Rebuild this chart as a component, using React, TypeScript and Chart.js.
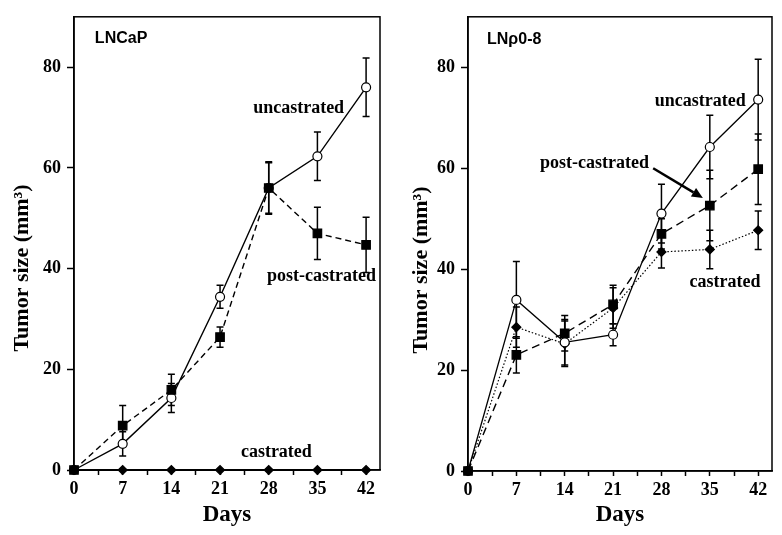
import React, { useEffect, useRef } from 'react';
import { Chart, registerables } from 'chart.js';

Chart.register(...registerables);

// ---------- data ----------
const days = [0, 7, 14, 21, 28, 35, 42];
const xTickValues = [0, 3.5, 7, 10.5, 14, 17.5, 21, 24.5, 28, 31.5, 35, 38.5, 42];
const yTickValues = [0, 20, 40, 60, 80];

// LNCaP
const lncapUncastrated = [0, 5.2, 14.3, 34.4, 56.0, 62.3, 76.0];
const lncapUncastratedErr = [0, 2.4, 2.9, 2.3, 5.2, 4.8, 5.8];
const lncapPostCastrated = [0, 8.8, 15.9, 26.4, 56.0, 47.0, 44.7];
const lncapPostCastratedErr = [0, 4.0, 3.1, 2.0, 5.0, 5.2, 5.5];
const lncapCastrated = [0, 0, 0, 0, 0, 0, 0];
const lncapCastratedErr = [0, 0, 0, 0, 0, 0, 0];

// LNrho0-8
const lnrhoUncastrated = [0, 33.9, 25.5, 27.0, 51.0, 64.2, 73.6];
const lnrhoUncastratedErr = [0, 7.6, 4.5, 2.2, 5.8, 6.3, 8.0];
const lnrhoPostCastrated = [0, 23.0, 27.3, 33.0, 47.0, 52.6, 59.8];
const lnrhoPostCastratedErr = [0, 3.6, 3.5, 3.8, 3.0, 7.0, 7.0];
const lnrhoCastrated = [0, 28.5, 25.2, 32.3, 43.4, 43.9, 47.7];
const lnrhoCastratedErr = [0, 4.0, 4.5, 4.0, 3.2, 3.8, 3.8];

const SERIF = '"Liberation Serif", "Times New Roman", serif';
const SANS = '"Liberation Sans", Arial, sans-serif';

type Series = {
  label: string;
  values: number[];
  errors: number[];
  pointStyle: string;
  radius: number;
  fill: string;
  dash: number[];
  width: number;
};

type Note = { text: string; x: number; y: number; align?: string; font?: string };

type Panel = {
  title: string;
  series: Series[];
  notes: Note[];
  arrow?: { from: [number, number]; to: [number, number] };
  area: { left: number; right: number; top: number; bottom: number };
  yTitlePos: [number, number];
};

const overlayPlugin = {
  id: 'overlay',
  beforeDatasetsDraw(chart: any) {
    const ctx = chart.ctx;
    const xs = chart.scales.x;
    const ys = chart.scales.y;
    ctx.save();
    ctx.strokeStyle = '#000';
    ctx.lineWidth = 1.5;
    ctx.setLineDash([]);
    chart.data.datasets.forEach((ds: any) => {
      const errs: number[] = ds.errors || [];
      ds.data.forEach((p: any, j: number) => {
        const e = errs[j];
        if (!e) return;
        const x = xs.getPixelForValue(p.x);
        const y1 = ys.getPixelForValue(p.y + e);
        const y2 = ys.getPixelForValue(p.y - e);
        ctx.beginPath();
        ctx.moveTo(x, y1);
        ctx.lineTo(x, y2);
        ctx.moveTo(x - 3.5, y1);
        ctx.lineTo(x + 3.5, y1);
        ctx.moveTo(x - 3.5, y2);
        ctx.lineTo(x + 3.5, y2);
        ctx.stroke();
      });
    });
    ctx.restore();
  },
  afterDatasetsDraw(chart: any, _args: any, opts: any) {
    const ctx = chart.ctx;
    const xs = chart.scales.x;
    const ys = chart.scales.y;
    const a = chart.chartArea;
    ctx.save();
    // box
    ctx.strokeStyle = '#000';
    ctx.lineWidth = 1.5;
    ctx.setLineDash([]);
    ctx.strokeRect(a.left, a.top, a.right - a.left, a.bottom - a.top);

    // notes
    ctx.fillStyle = '#000';
    ctx.textBaseline = 'middle';
    (opts.notes || []).forEach((n: Note) => {
      ctx.font = n.font || `bold 18px ${SERIF}`;
      ctx.textAlign = (n.align as CanvasTextAlign) || 'center';
      ctx.fillText(n.text, xs.getPixelForValue(n.x), ys.getPixelForValue(n.y));
    });

    // arrow
    if (opts.arrow) {
      const x1 = xs.getPixelForValue(opts.arrow.from[0]);
      const y1 = ys.getPixelForValue(opts.arrow.from[1]);
      const x2 = xs.getPixelForValue(opts.arrow.to[0]);
      const y2 = ys.getPixelForValue(opts.arrow.to[1]);
      const ang = Math.atan2(y2 - y1, x2 - x1);
      const hl = 11;
      const bx = x2 - hl * Math.cos(ang);
      const by = y2 - hl * Math.sin(ang);
      ctx.lineWidth = 2.5;
      ctx.beginPath();
      ctx.moveTo(x1, y1);
      ctx.lineTo(bx, by);
      ctx.stroke();
      ctx.beginPath();
      ctx.moveTo(x2, y2);
      ctx.lineTo(bx + 5 * Math.sin(ang), by - 5 * Math.cos(ang));
      ctx.lineTo(bx - 5 * Math.sin(ang), by + 5 * Math.cos(ang));
      ctx.closePath();
      ctx.fill();
    }

    // y title
    if (opts.yTitle) {
      ctx.translate(opts.yTitle.x, opts.yTitle.y);
      ctx.rotate(-Math.PI / 2);
      ctx.font = `bold 22px ${SERIF}`;
      ctx.textAlign = 'center';
      ctx.textBaseline = 'middle';
      ctx.fillText(opts.yTitle.text, 0, 0);
    }
    ctx.restore();
  },
};

const CANVAS_W = 391;
const CANVAS_H = 535;

function makeConfig(panel: Panel): any {
  const datasets = panel.series.map((s) => ({
    label: s.label,
    data: days.map((d, i) => ({ x: d, y: s.values[i] })),
    errors: s.errors,
    borderColor: '#000',
    borderWidth: s.width,
    borderDash: s.dash,
    pointStyle: s.pointStyle,
    pointRadius: s.radius,
    pointBackgroundColor: s.fill,
    pointBorderColor: '#000',
    pointBorderWidth: 1.2,
    tension: 0,
    fill: false,
    clip: false,
  }));
  const tickFont = { family: SERIF, size: 18, weight: 'bold' as const };
  return {
    type: 'line',
    data: { datasets },
    plugins: [overlayPlugin],
    options: {
      responsive: false,
      animation: false,
      layout: {
        padding: {
          left: 0,
          top: panel.area.top,
          right: CANVAS_W - panel.area.right,
          bottom: 0,
        },
      },
      plugins: {
        legend: { display: false },
        tooltip: { enabled: false },
        overlay: {
          notes: panel.notes,
          arrow: panel.arrow,
          yTitle: { text: 'Tumor size (mm\u00B3)', x: panel.yTitlePos[0], y: panel.yTitlePos[1] },
        },
      },
      scales: {
        x: {
          type: 'linear',
          min: 0,
          max: 44,
          afterBuildTicks: (scale: any) => {
            scale.ticks = xTickValues.map((v) => ({ value: v }));
          },
          afterFit: (scale: any) => {
            scale.height = CANVAS_H - panel.area.bottom;
          },
          ticks: {
            autoSkip: false,
            maxRotation: 0,
            padding: 4,
            color: '#000',
            font: tickFont,
            callback: (v: any) => (Number(v) % 7 === 0 ? String(v) : ''),
          },
          grid: {
            drawOnChartArea: false,
            drawTicks: true,
            tickLength: 5,
            tickColor: '#000',
            tickWidth: 1.5,
          },
          border: { display: true, color: '#000', width: 1.5 },
          title: {
            display: true,
            text: 'Days',
            color: '#000',
            font: { family: SERIF, size: 23, weight: 'bold' },
            padding: { top: 0, bottom: 6 },
          },
        },
        y: {
          type: 'linear',
          min: 0,
          max: 90,
          afterBuildTicks: (scale: any) => {
            scale.ticks = yTickValues.map((v) => ({ value: v }));
          },
          afterFit: (scale: any) => {
            scale.width = panel.area.left;
          },
          ticks: {
            padding: 6,
            color: '#000',
            font: tickFont,
          },
          grid: {
            drawOnChartArea: false,
            drawTicks: true,
            tickLength: 7,
            tickColor: '#000',
            tickWidth: 1.5,
          },
          border: { display: true, color: '#000', width: 1.5 },
        },
      },
    },
  };
}

const leftPanel: Panel = {
  title: 'LNCaP',
  series: [
    { label: 'post-castrated', values: lncapPostCastrated, errors: lncapPostCastratedErr, pointStyle: 'rect', radius: 6, fill: '#000', dash: [6, 4], width: 1.4 },
    { label: 'uncastrated', values: lncapUncastrated, errors: lncapUncastratedErr, pointStyle: 'circle', radius: 4.5, fill: '#fff', dash: [], width: 1.4 },
    { label: 'castrated', values: lncapCastrated, errors: lncapCastratedErr, pointStyle: 'rectRot', radius: 4.5, fill: '#000', dash: [], width: 2 },
  ],
  notes: [
    { text: 'LNCaP', x: 3.0, y: 85.7, align: 'left', font: `bold 16px ${SANS}` },
    { text: 'uncastrated', x: 32.3, y: 71.8 },
    { text: 'post-castrated', x: 35.6, y: 38.5 },
    { text: 'castrated', x: 29.1, y: 3.6 },
  ],
  area: { left: 74, right: 380, top: 16, bottom: 470 },
  yTitlePos: [22, 268],
};

const rightPanel: Panel = {
  title: 'LN\u03C10-8',
  series: [
    { label: 'post-castrated', values: lnrhoPostCastrated, errors: lnrhoPostCastratedErr, pointStyle: 'rect', radius: 6, fill: '#000', dash: [8, 5], width: 1.4 },
    { label: 'uncastrated', values: lnrhoUncastrated, errors: lnrhoUncastratedErr, pointStyle: 'circle', radius: 4.5, fill: '#fff', dash: [], width: 1.3 },
    { label: 'castrated', values: lnrhoCastrated, errors: lnrhoCastratedErr, pointStyle: 'rectRot', radius: 4.5, fill: '#000', dash: [1.5, 2], width: 1.2 },
  ],
  notes: [
    { text: 'LN\u03C10-8', x: 2.75, y: 85.5, align: 'left', font: `bold 16px ${SANS}` },
    { text: 'uncastrated', x: 33.6, y: 73.3 },
    { text: 'post-castrated', x: 18.3, y: 61.0 },
    { text: 'castrated', x: 37.2, y: 37.4 },
  ],
  arrow: { from: [26.8, 60.0], to: [34.0, 54.1] },
  area: { left: 77, right: 381, top: 15, bottom: 471 },
  yTitlePos: [30, 270],
};

function PanelChart({ panel }: { panel: Panel }) {
  const ref = useRef<HTMLCanvasElement | null>(null);
  useEffect(() => {
    if (!ref.current) return;
    const chart = new Chart(ref.current, makeConfig(panel));
    return () => chart.destroy();
  }, [panel]);
  return <canvas ref={ref} width={CANVAS_W} height={CANVAS_H} style={{ display: 'block', width: CANVAS_W, height: CANVAS_H }} />;
}

export default function App() {
  return (
    <div style={{ position: 'fixed', left: 0, top: 0, width: 782, height: 535, background: '#fff' }}>
      <div style={{ position: 'absolute', left: 0, top: 0 }}>
        <PanelChart panel={leftPanel} />
      </div>
      <div style={{ position: 'absolute', left: 391, top: 0 }}>
        <PanelChart panel={rightPanel} />
      </div>
    </div>
  );
}
